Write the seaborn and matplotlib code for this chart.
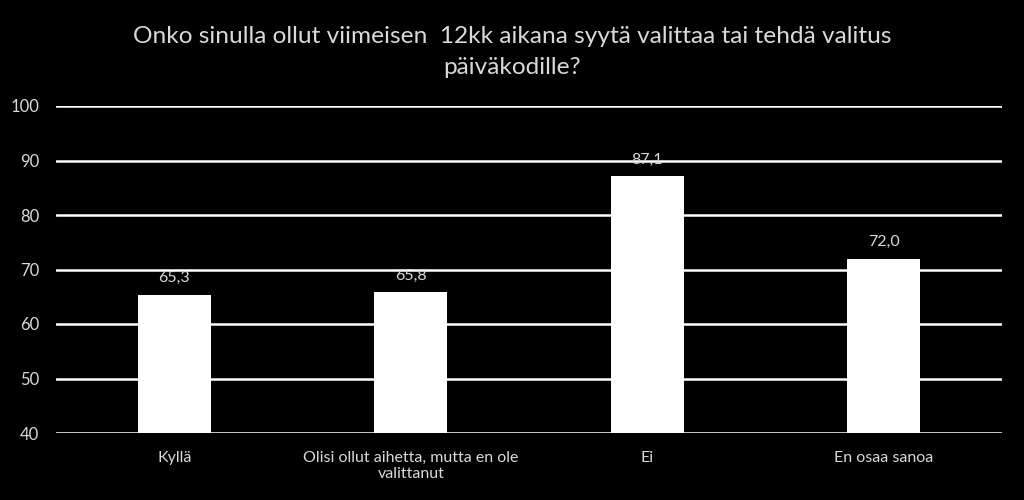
import pandas as pd
import matplotlib
matplotlib.use("Agg")
import matplotlib.pyplot as plt
import seaborn as sns

# data
categories = ["Kyllä", "Olisi ollut aihetta, mutta en ole\nvalittanut", "Ei", "En osaa sanoa"]
values = [65.3, 65.8, 87.1, 72.0]
title = "Onko sinulla ollut viimeisen  12kk aikana syytä valittaa tai tehdä valitus\npäiväkodille?"

df = pd.DataFrame({"cat": categories, "val": values})

sns.set_style("dark")
plt.rcParams["font.family"] = ["Lato", "DejaVu Sans"]
txt = "#d9d9d9"

fig = plt.figure(figsize=(10.24, 5), dpi=100, facecolor="black")
ax = fig.add_axes([0.0547, 0.134, 0.9238, 0.654])
ax.set_facecolor("black")

sns.barplot(data=df, x="cat", y="val", color="white", width=0.31,
            saturation=1, ax=ax, zorder=3)

# bars start from the axis floor (40)
for p in ax.patches:
    p.set_y(40)
    p.set_height(p.get_height() - 40)
    p.set_edgecolor("none")

for i, v in enumerate(values):
    ax.text(i, v + 1.8, f"{v:.1f}".replace(".", ","), ha="center", va="bottom",
            color=txt, fontsize=11.5)

ax.set_ylim(40, 100)
ax.set_yticks(range(40, 101, 10))
ax.set_xlim(-0.5, 3.5)
ax.grid(axis="y", color="white", linewidth=1.8, zorder=0)
ax.grid(axis="x", visible=False)
for s in ax.spines.values():
    s.set_visible(False)
ax.tick_params(axis="both", colors=txt, labelsize=12, length=0)
ax.tick_params(axis="y", pad=12)
ax.tick_params(axis="x", pad=13)
for lab in ax.get_xticklabels():
    lab.set_fontsize(11.5)
ax.set_xlabel("")
ax.set_ylabel("")

fig.text(0.5, 0.948, title, ha="center", va="top", color=txt, fontsize=17.6,
         linespacing=1.6)

fig.savefig("out.png", dpi=100, facecolor="black")
